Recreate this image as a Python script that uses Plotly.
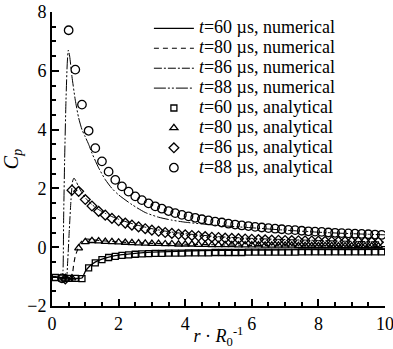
import plotly.graph_objects as go

# ---- numerical curves (r/R0, Cp) ----
r_num60 = [0.0, 0.2, 0.5, 0.8, 0.9, 0.95, 1.0, 1.1, 1.2, 1.4, 1.6, 1.8, 2.0, 2.5, 3.0, 4.0, 5.0, 6.0, 7.0, 8.0, 9.0, 10.0]
cp_num60 = [-1.0, -1.02, -1.05, -1.06, -1.05, -0.95, -0.82, -0.68, -0.58, -0.45, -0.37, -0.31, -0.27, -0.21, -0.17, -0.13, -0.11, -0.10, -0.09, -0.08, -0.08, -0.07]

r_num80 = [0.0, 0.3, 0.55, 0.6, 0.65, 0.7, 0.78, 0.85, 0.95, 1.05, 1.2, 1.5, 2.0, 2.5, 3.0, 4.0, 5.0, 6.0, 7.0, 8.0, 9.0, 10.0]
cp_num80 = [-1.0, -1.05, -1.08, -1.0, -0.6, -0.3, -0.05, 0.15, 0.27, 0.28, 0.26, 0.22, 0.18, 0.15, 0.13, 0.10, 0.08, 0.06, 0.05, 0.04, 0.03, 0.02]

r_num86 = [0.0, 0.3, 0.42, 0.47, 0.52, 0.57, 0.62, 0.66, 0.72, 0.8, 0.9, 1.0, 1.2, 1.4, 1.6, 1.8, 2.0, 2.5, 3.0, 3.5, 4.0, 5.0, 6.0, 7.0, 8.0, 9.0, 10.0]
cp_num86 = [-1.0, -1.06, -1.1, -0.5, 0.6, 1.6, 2.25, 2.35, 2.25, 2.05, 1.85, 1.68, 1.45, 1.28, 1.15, 1.04, 0.95, 0.77, 0.63, 0.53, 0.46, 0.36, 0.30, 0.26, 0.23, 0.20, 0.18]

r_num88 = [0.0, 0.2, 0.30, 0.33, 0.35, 0.38, 0.42, 0.46, 0.49, 0.53, 0.6, 0.7, 0.8, 0.9, 1.0, 1.1, 1.2, 1.4, 1.6, 1.8, 2.0, 2.4, 2.8, 3.2, 3.6, 4.0, 5.0, 6.0, 7.0, 8.0, 9.0, 10.0]
cp_num88 = [-1.0, -1.04, -1.08, -0.8, 1.0, 3.0, 5.0, 6.3, 6.7, 6.5, 5.8, 5.0, 4.4, 4.0, 3.75, 3.5, 3.2, 2.7, 2.3, 2.0, 1.78, 1.45, 1.18, 1.02, 0.92, 0.85, 0.74, 0.66, 0.58, 0.51, 0.46, 0.42]

# ---- analytical points ----
r_an60 = [0.1, 0.3, 0.5, 0.7, 0.9, 1.1, 1.3, 1.5, 1.7, 1.9, 2.1, 2.3, 2.5, 2.7, 2.9, 3.1, 3.3, 3.5, 3.7, 3.9, 4.1, 4.3, 4.5, 4.7, 4.9,
          5.1, 5.3, 5.5, 5.7, 5.9, 6.1, 6.3, 6.5, 6.7, 6.9, 7.1, 7.3, 7.5, 7.7, 7.9, 8.1, 8.3, 8.5, 8.7, 8.9, 9.1, 9.3, 9.5, 9.7, 9.9]
cp_an60 = [-1.03, -1.05, -1.06, -1.06, -1.07, -0.70, -0.53, -0.42, -0.35, -0.31, -0.28, -0.26, -0.24, -0.23, -0.22, -0.21, -0.21, -0.20, -0.20, -0.20, -0.19, -0.19, -0.19, -0.19, -0.18,
           -0.18, -0.18, -0.18, -0.18, -0.17, -0.17, -0.17, -0.17, -0.17, -0.17, -0.17, -0.17, -0.16, -0.16, -0.16, -0.16, -0.16, -0.16, -0.16, -0.16, -0.16, -0.16, -0.16, -0.16, -0.16]

r_an80 = [0.4, 0.6, 0.8, 1.0, 1.2, 1.4, 1.6, 1.8, 2.0, 2.2, 2.4, 2.6, 2.8, 3.0, 3.2, 3.4, 3.6, 3.8, 4.0, 4.2, 4.4, 4.6, 4.8, 5.0,
          5.2, 5.4, 5.6, 5.8, 6.0, 6.2, 6.4, 6.6, 6.8, 7.0, 7.2, 7.4, 7.6, 7.8, 8.0, 8.2, 8.4, 8.6, 8.8, 9.0, 9.2, 9.4, 9.6, 9.8]
cp_an80 = [-1.06, -1.05, -0.03, 0.18, 0.22, 0.21, 0.19, 0.18, 0.17, 0.16, 0.15, 0.14, 0.13, 0.12, 0.12, 0.11, 0.11, 0.10, 0.10, 0.10, 0.09, 0.09, 0.08, 0.08,
           0.08, 0.08, 0.07, 0.07, 0.07, 0.07, 0.06, 0.06, 0.06, 0.06, 0.06, 0.05, 0.05, 0.05, 0.05, 0.05, 0.05, 0.04, 0.04, 0.04, 0.04, 0.04, 0.04, 0.04]

r_an86 = [0.4, 0.6, 0.8, 1.0, 1.2, 1.4, 1.6, 1.8, 2.0, 2.2, 2.4, 2.6, 2.8, 3.0, 3.2, 3.4, 3.6, 3.8, 4.0, 4.2, 4.4, 4.6, 4.8, 5.0,
          5.2, 5.4, 5.6, 5.8, 6.0, 6.2, 6.4, 6.6, 6.8, 7.0, 7.2, 7.4, 7.6, 7.8, 8.0, 8.2, 8.4, 8.6, 8.8, 9.0, 9.2, 9.4, 9.6, 9.8]
cp_an86 = [-1.08, 1.94, 1.90, 1.62, 1.40, 1.22, 1.09, 0.98, 0.90, 0.82, 0.75, 0.69, 0.63, 0.58, 0.54, 0.50, 0.47, 0.44, 0.42, 0.40, 0.38, 0.36, 0.34, 0.33,
           0.31, 0.30, 0.29, 0.28, 0.27, 0.26, 0.25, 0.24, 0.235, 0.23, 0.225, 0.22, 0.215, 0.21, 0.205, 0.20, 0.195, 0.19, 0.19, 0.185, 0.18, 0.18, 0.175, 0.17]

r_an88 = [0.3, 0.5, 0.7, 0.9, 1.1, 1.3, 1.5, 1.7, 1.9, 2.1, 2.3, 2.5, 2.7, 2.9, 3.1, 3.3, 3.5, 3.7, 3.9, 4.1, 4.3, 4.5, 4.7, 4.9,
          5.1, 5.3, 5.5, 5.7, 5.9, 6.1, 6.3, 6.5, 6.7, 6.9, 7.1, 7.3, 7.5, 7.7, 7.9, 8.1, 8.3, 8.5, 8.7, 8.9, 9.1, 9.3, 9.5, 9.7, 9.9]
cp_an88 = [-1.06, 7.38, 6.04, 4.85, 3.96, 3.37, 2.92, 2.57, 2.29, 2.07, 1.89, 1.73, 1.60, 1.49, 1.39, 1.31, 1.23, 1.16, 1.10, 1.05, 1.00, 0.95, 0.91, 0.87,
           0.84, 0.80, 0.77, 0.74, 0.72, 0.69, 0.67, 0.65, 0.63, 0.61, 0.59, 0.58, 0.56, 0.54, 0.53, 0.52, 0.50, 0.49, 0.48, 0.47, 0.46, 0.45, 0.44, 0.43, 0.42]

FONT = "Liberation Serif"
BLACK = "#000000"
LEG = '<span style="font-size:18px"><i>t</i>=%s µs, %s</span>'

fig = go.Figure()

lines = [
    (r_num60, cp_num60, LEG % ("60", "numerical"), "solid", 1.3),
    (r_num80, cp_num80, LEG % ("80", "numerical"), "5px,4px", 1.1),
    (r_num86, cp_num86, LEG % ("86", "numerical"), "8px,2px,2px,2px", 1.0),
    (r_num88, cp_num88, LEG % ("88", "numerical"), "12px,2px,2px,2px,2px,2px", 1.0),
]
for x, y, name, dash, w in lines:
    fig.add_trace(go.Scatter(x=x, y=y, mode="lines", name=name,
                             line=dict(color=BLACK, width=w, dash=dash, shape="spline", smoothing=0.6)))

points = [
    (r_an60, cp_an60, LEG % ("60", "analytical"), "square-open", 6),
    (r_an80, cp_an80, LEG % ("80", "analytical"), "triangle-up-open", 7),
    (r_an86, cp_an86, LEG % ("86", "analytical"), "diamond-open", 7.5),
    (r_an88, cp_an88, LEG % ("88", "analytical"), "circle-open", 8.5),
]
for x, y, name, sym, sz in points:
    fig.add_trace(go.Scatter(x=x, y=y, mode="markers", name=name,
                             marker=dict(symbol=sym, size=sz, color=BLACK, line=dict(color=BLACK, width=1.3))))

axis_common = dict(
    showline=True, linecolor=BLACK, linewidth=2, mirror=False,
    showgrid=False, zeroline=False, automargin=False,
    ticks="inside", ticklen=7, tickwidth=2, tickcolor=BLACK,
    ticklabeloverflow="allow",
    tickfont=dict(family=FONT, size=18, color=BLACK),
    minor=dict(ticks="inside", ticklen=4, tickwidth=1.5, tickcolor=BLACK, dtick=0.5, showgrid=False),
)

fig.update_xaxes(range=[0, 10], tick0=0, dtick=2, **axis_common,
                 title=dict(text="<i>r</i> · <i>R</i><sub>0</sub><sup>-1</sup>",
                            font=dict(family=FONT, size=18, color=BLACK), standoff=0))
fig.update_yaxes(range=[-2, 8], tick0=0, dtick=2, **axis_common,
                 title=dict(text="<i>C</i><sub><i>p</i></sub>",
                            font=dict(family=FONT, size=20, color=BLACK), standoff=4))

fig.update_layout(
    width=393, height=349,
    margin=dict(l=52, r=8, t=12, b=43),
    paper_bgcolor="white", plot_bgcolor="white",
    font=dict(family=FONT, color=BLACK),
    showlegend=True,
    legend=dict(x=0.291, y=0.995, xanchor="left", yanchor="top",
                bgcolor="rgba(0,0,0,0)", borderwidth=0,
                font=dict(family=FONT, size=13, color=BLACK),
                itemwidth=40, tracegroupgap=0),
)

fig.write_html("out.html", config={"displayModeBar": False},
               post_script="document.body.style.margin='0';document.body.style.overflow='hidden';")
